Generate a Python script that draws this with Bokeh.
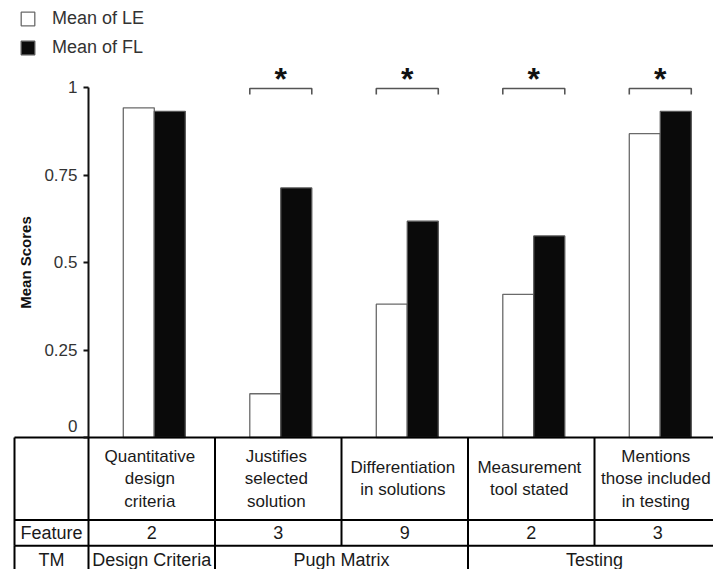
import numpy as np
from bokeh.plotting import figure
from bokeh.models import (Range1d, LinearAxis, FixedTicker, Legend, LegendItem,
                          ColumnDataSource)
from bokeh.core.properties import value
from bokeh.embed import file_html
from bokeh.resources import INLINE

# ---------------- data ----------------
categories = ["Quantitative\ndesign\ncriteria",
              "Justifies\nselected\nsolution",
              "Differentiation\nin solutions",
              "Measurement\ntool stated",
              "Mentions\nthose included\nin testing"]
mean_le = [0.942, 0.125, 0.381, 0.409, 0.868]
mean_fl = [0.932, 0.713, 0.618, 0.576, 0.932]
significant = [False, True, True, True, True]
feature_counts = ["2", "3", "9", "2", "3"]
tm_groups = ["Design Criteria", "Pugh Matrix", "Testing"]
tm_group_sizes = [1, 2, 2]
y_ticks = [0, 0.25, 0.5, 0.75, 1]
y_tick_labels = ["0", "0.25", "0.5", "0.75", "1"]
series_names = ["Mean of LE", "Mean of FL"]

FONT = "Liberation Sans"
n = len(categories)

# ---------------- layout constants ----------------
PX_X = 126.5          # pixels per category
PX_Y = 350.0          # pixels per unit of score
W, H = 713, 569
x0_px, y0_px = 88, 437  # canvas position of (x=0, y=0)

p = figure(width=W, height=H, output_backend="svg", toolbar_location=None,
           x_range=Range1d(-x0_px / PX_X, (W - x0_px) / PX_X),
           y_range=Range1d(-(H - y0_px) / PX_Y, y0_px / PX_Y),
           x_axis_location=None, y_axis_location=None,
           min_border=0, outline_line_color=None,
           background_fill_color="white", border_fill_color="white")
p.grid.visible = False

# ---------------- bars ----------------
centers = np.arange(n) + 0.52
bw = 0.245
src = ColumnDataSource(dict(x_le=centers - bw / 2, x_fl=centers + bw / 2,
                            le=mean_le, fl=mean_fl))
r_le = p.vbar(x="x_le", top="le", bottom=0, width=bw, source=src,
              fill_color="white", line_color="#6a6a6a", line_width=1.3)
r_fl = p.vbar(x="x_fl", top="fl", bottom=0, width=bw, source=src,
              fill_color="#0a0a0a", line_color="#555555", line_width=1.3)

# ---------------- significance brackets ----------------
sig_c = centers[np.array(significant)]
b_top, b_low = 0.997, 0.98
xs = [[c - bw, c - bw, c + bw, c + bw] for c in sig_c]
ys = [[b_low, b_top, b_top, b_low] for c in sig_c]
p.multi_line(xs=xs, ys=ys, line_color="#555555", line_width=1.6)
p.text(x=list(sig_c), y=[1.023] * len(sig_c), text=["*"] * len(sig_c),
       text_font=value(FONT), text_font_size="32px", text_font_style="bold",
       text_align="center", text_baseline="alphabetic", text_color="#111111")

# ---------------- y axis ----------------
# the "0" label sits just above the table's top rule, as in the original
overrides = {t: l for t, l in zip(y_ticks, y_tick_labels)}
overrides[0] = y_tick_labels[0] + "\n"
yaxis = LinearAxis(fixed_location=0, bounds=(0, 1),
                   ticker=FixedTicker(ticks=y_ticks, minor_ticks=[]),
                   major_label_overrides=overrides,
                   axis_label="Mean Scores")
yaxis.axis_line_width = 2
yaxis.axis_line_color = "#111111"
yaxis.major_tick_out = 5
yaxis.major_tick_in = 0
yaxis.major_tick_line_width = 2
yaxis.major_tick_line_color = "#111111"
yaxis.minor_tick_line_color = None
yaxis.major_label_text_font = FONT
yaxis.major_label_text_font_size = "17px"
yaxis.major_label_text_color = "#333333"
yaxis.major_label_standoff = 6
yaxis.axis_label_text_font = FONT
yaxis.axis_label_text_font_size = "15px"
yaxis.axis_label_text_font_style = "bold"
yaxis.axis_label_text_color = "#111111"
yaxis.axis_label_standoff = 7
p.add_layout(yaxis, "left")

# ---------------- table ----------------
t_left = -74 / PX_X
r1 = -0.236
r2 = -0.309
t_bot = -0.45
t_right = n + 0.5
hy = [0, r1, r2]
p.segment(x0=[t_left] * 3, y0=hy, x1=[t_right] * 3, y1=hy,
          line_color="#000000", line_width=2)
# vertical lines for rows 1-2 (every column boundary)
bounds_x = [t_left] + list(np.arange(n + 1))
p.segment(x0=bounds_x, y0=[0] * len(bounds_x), x1=bounds_x, y1=[r2] * len(bounds_x),
          line_color="#000000", line_width=2)
# vertical lines for the TM row (group boundaries)
grp_edges = [t_left, 0] + list(np.cumsum(tm_group_sizes))
p.segment(x0=grp_edges, y0=[r2] * len(grp_edges), x1=grp_edges,
          y1=[t_bot] * len(grp_edges), line_color="#000000", line_width=2)

col_c = np.arange(n) + 0.5
label_x = (t_left + 0) / 2
p.text(x=list(col_c - 0.015), y=[r1 / 2] * n, text=categories,
       text_font=value(FONT), text_font_size="17px", text_align="center",
       text_baseline="middle", text_line_height=1.18, text_color="#1a1a1a")
p.text(x=[label_x] + list(col_c), y=[(r1 + r2) / 2] * (n + 1),
       text=["Feature"] + feature_counts,
       text_font=value(FONT), text_font_size="18px", text_align="center",
       text_baseline="middle", text_color="#1a1a1a")
starts = np.concatenate([[0], np.cumsum(tm_group_sizes)[:-1]])
grp_c = starts + np.array(tm_group_sizes) / 2
p.text(x=[label_x] + list(grp_c), y=[-0.349] * (len(tm_groups) + 1),
       text=["TM"] + tm_groups,
       text_font=value(FONT), text_font_size="18px", text_align="center",
       text_baseline="middle", text_color="#1a1a1a")

# ---------------- legend ----------------
legend = Legend(items=[LegendItem(label=series_names[0], renderers=[r_le]),
                       LegendItem(label=series_names[1], renderers=[r_fl])],
                location=(19, 511), padding=0, margin=0, spacing=8,
                glyph_width=17, glyph_height=17, label_height=21,
                label_standoff=16,
                label_text_font=FONT, label_text_font_size="18px",
                label_text_color="#333333", border_line_color=None,
                background_fill_alpha=0)
p.add_layout(legend)

open("out.html", "w").write(file_html(p, INLINE))
